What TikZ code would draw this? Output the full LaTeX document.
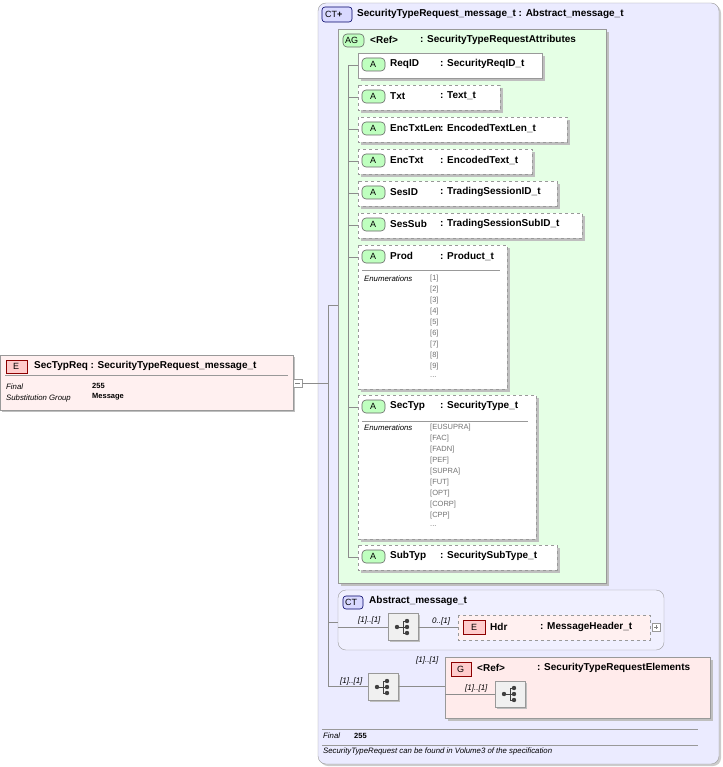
\documentclass[tikz,border=0pt]{standalone}
\usepackage{fontspec}
\setmainfont{Liberation Sans}
\begin{document}
\begin{tikzpicture}[x=1pt,y=-1pt,
  every node/.style={inner sep=0pt,anchor=west},
  nm/.style={font=\fontsize{10}{11}\selectfont\bfseries},
  sm/.style={font=\fontsize{7.8}{8}\selectfont\itshape},
  sv/.style={font=\fontsize{7.5}{8}\selectfont\bfseries},
  en/.style={font=\fontsize{7.5}{8}\selectfont,text=black!55},
  bd/.style={font=\fontsize{9}{10}\selectfont},
  ln/.style={draw=black!45,line width=0.6pt},
  abox/.style={draw=black!40,fill=white,line width=0.7pt},
  dbox/.style={abox,dashed},
  shad/.style={fill=black!25},
  badgeA/.style={draw=black!60,fill=green!25,rounded corners=4pt,line width=0.6pt},
  badgeE/.style={draw=red!55!black,fill=red!20,line width=0.6pt},
  badgeC/.style={draw=blue!40!black,fill=blue!15,rounded corners=3pt,line width=0.6pt},
  seq/.style={draw=black!40,fill=black!6,line width=0.6pt},
  lab/.style={font=\fontsize{8}{9}\selectfont\itshape}]
\useasboundingbox (0,0) rectangle (722,767);
% outer CT
\fill[black!20,rounded corners=8pt] (320,5) rectangle (721,766);
\draw[draw=black!40,fill=blue!8,rounded corners=8pt] (318,3) rectangle (719,764);
\draw[badgeC] (322,7) rectangle (352,22);
\node[bd] at (325,14.5) {CT\textbf{+}};
\node[nm] (ctt) at (357,14) {SecurityTypeRequest\_message\_t : Abstract\_message\_t};
% left element
\fill[shad] (2,357) rectangle (295,412);
\draw[draw=black!40,fill=red!6] (0,355) rectangle (293,410);
\draw[badgeE] (6,360) rectangle (27,373);
\node[bd] at (13,366.5) {E};
\node[nm] (el) at (34,366) {SecTypReq : SecurityTypeRequest\_message\_t};
\draw[black!40] (5,375) -- (288,375);
\node[sm] at (6,387) {Final}; \node[sv] at (92,386) {255};
\node[sm] at (6,398) {Substitution Group}; \node[sv] at (92,397) {Message};
\draw[black!40,fill=white] (293,379) rectangle (302,387);
\draw[black!50] (295,383) -- (300,383);
\coordinate (mn) at (302,383);
\draw[ln] (mn) -- (318,383);
\draw[ln] (328,305) -- (328,686);
\draw[ln] (318,383) -- (328,383);
% AG box
\fill[shad] (341,32) rectangle (609,586);
\draw[draw=black!40,fill=green!10] (338,29) rectangle (606,583);
\draw[badgeA] (343,34) rectangle (364,47);
\node[bd] at (345,40.5) {AG};
\node[nm] at (370,40) {<Ref>};
\node[nm] at (420,40) {: SecurityTypeRequestAttributes};
\draw[ln] (328,305) -- (338,305);
\draw[ln] (348,66) -- (348,557);
% attributes
\newcommand{\attr}[6]{% y1 y2 xr name type style
  \fill[shad] (361,#1+3) rectangle (#3+3,#2+3);
  \draw[#6] (358,#1) rectangle (#3,#2);
  \draw[ln] (348,#1+12) -- (358,#1+12);
  \draw[badgeA] (362,#1+5) rectangle (385,#1+18);
  \node[bd] at (370,#1+11.5) {A};
  \node[nm] at (390,#1+11) {#4};
  \node[nm] at (440,#1+11) {: #5};}
\attr{53}{78}{542}{ReqID}{SecurityReqID\_t}{abox}
\attr{85}{110}{500}{Txt}{Text\_t}{dbox}
\attr{117}{142}{567}{EncTxtLen}{EncodedTextLen\_t}{dbox}
\attr{149}{174}{532}{EncTxt}{EncodedText\_t}{dbox}
\attr{181}{206}{557}{SesID}{TradingSessionID\_t}{dbox}
\attr{213}{238}{582}{SesSub}{TradingSessionSubID\_t}{dbox}
\attr{245}{389}{507}{Prod}{Product\_t}{dbox}
\draw[black!40] (362,270) -- (500,270);
\node[sm] at (364,279) {Enumerations};
\foreach \v [count=\i from 0] in {1,2,3,4,5,6,7,8,9}
  \node[en] at (430,279+10.9*\i) {[\v]};
\node[en] at (430,279+10.9*9) {...};
\attr{395}{539}{536}{SecTyp}{SecurityType\_t}{dbox}
\draw[black!40] (362,421) -- (528,421);
\node[sm] at (364,428) {Enumerations};
\foreach \v [count=\i from 0] in {EUSUPRA,FAC,FADN,PEF,SUPRA,FUT,OPT,CORP,CPP}
  \node[en] at (430,428+10.9*\i) {[\v]};
\node[en] at (430,428+10.9*9) {...};
\attr{545}{570}{557}{SubTyp}{SecuritySubType\_t}{dbox}
% Abstract CT
\draw[draw=black!40,fill=blue!6,rounded corners=8pt] (338,590) rectangle (664,650);
\draw[badgeC] (343,596) rectangle (363,609);
\node[bd] at (345,602.5) {CT};
\node[nm] at (369,601) {Abstract\_message\_t};
\draw[ln] (328,622) -- (338,622);
\draw[ln] (338,627) -- (388,627);
\node[lab] at (358,620) {[1]..[1]};
\fill[shad] (390,615) rectangle (420,642);
\draw[seq] (388,613) rectangle (418,640);
\draw[ln] (418,627) -- (458,627);
\node[lab] at (432,621) {0..[1]};
\draw[draw=black!40,dashed,fill=red!6] (458,615) rectangle (650,640);
\draw[badgeE] (463,620) rectangle (485,634);
\node[bd] at (471,627) {E};
\node[nm] at (490,627) {Hdr};
\node[nm] at (540,627) {: MessageHeader\_t};
\draw[black!40,fill=white] (652,623) rectangle (660,631);
\draw[black!50] (654,627) -- (658,627) (656,625) -- (656,629);
% sequence
\draw[ln] (328,686) -- (368,686);
\node[lab] at (340,681) {[1]..[1]};
\fill[shad] (370,675) rectangle (400,702);
\draw[seq] (368,673) rectangle (398,700);
\draw[ln] (398,686) -- (445,686);
\node[lab] at (416,660) {[1]..[1]};
\fill[shad] (448,660) rectangle (713,721);
\draw[draw=black!40,fill=red!8] (445,657) rectangle (710,718);
\draw[badgeE] (451,662) rectangle (471,676);
\node[bd] at (457,669) {G};
\node[nm] at (477,668) {<Ref>};
\node[nm] at (537,668) {: SecurityTypeRequestElements};
\draw[ln] (445,694) -- (495,694);
\node[lab] at (465,688) {[1]..[1]};
\fill[shad] (497,683) rectangle (527,709);
\draw[seq] (495,681) rectangle (525,707);
% seq icons
\foreach \cx/\cy in {403/627,383/687,510/694}{
  \fill[black!75] (\cx-6,\cy) circle (2.2);
  \draw[black!75,line width=1pt] (\cx-6,\cy) -- (\cx,\cy) (\cx,\cy-6) -- (\cx,\cy+6)
     (\cx,\cy-6) -- (\cx+4,\cy-6) (\cx,\cy) -- (\cx+4,\cy) (\cx,\cy+6) -- (\cx+4,\cy+6);
  \foreach \d in {-6,0,6} \fill[black!75] (\cx+4,\cy+\d) circle (2.2);}
% footer
\draw[black!40] (322,729) -- (698,729);
\node[sm] at (323,736) {Final}; \node[sv] at (354,735.5) {255};
\draw[black!40] (322,745) -- (698,745);
\node[sm] at (323,751) {SecurityTypeRequest can be found in Volume3 of the specification};
\end{tikzpicture}
\end{document}
